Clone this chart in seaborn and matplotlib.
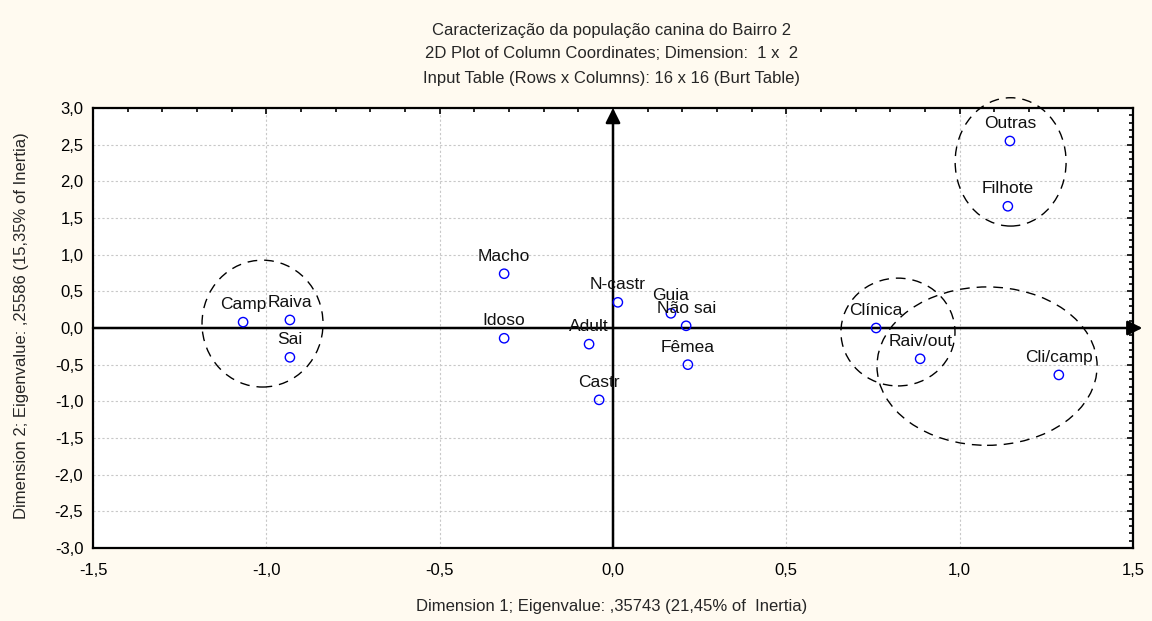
import numpy as np
import pandas as pd
import matplotlib
matplotlib.use("Agg")
import matplotlib.pyplot as plt
from matplotlib.patches import Ellipse
import seaborn as sns

# column coordinates
categories = ["Camp", "Raiva", "Sai", "Macho", "Idoso", "Adult", "N-castr", "Guia",
              "Não sai", "Fêmea", "Castr", "Clínica", "Raiv/out", "Cli/camp",
              "Outras", "Filhote"]
dim1 = [-1.067, -0.932, -0.932, -0.314, -0.314, -0.069, 0.014, 0.167,
        0.211, 0.216, -0.040, 0.759, 0.886, 1.286, 1.145, 1.139]
dim2 = [0.08, 0.11, -0.40, 0.74, -0.14, -0.22, 0.35, 0.20,
        0.03, -0.50, -0.98, 0.00, -0.42, -0.64, 2.55, 1.66]

# dashed groupings: centre x, centre y, width, height
groups_x = [-1.011, 1.147, 0.822, 1.079]
groups_y = [0.06, 2.265, -0.055, -0.52]
groups_w = [0.349, 0.320, 0.329, 0.635]
groups_h = [1.73, 1.75, 1.47, 2.16]

x_ticks = [-1.5, -1.0, -0.5, 0.0, 0.5, 1.0, 1.5]
y_ticks = [-3.0, -2.5, -2.0, -1.5, -1.0, -0.5, 0.0, 0.5, 1.0, 1.5, 2.0, 2.5, 3.0]

df = pd.DataFrame({"label": categories, "dim1": dim1, "dim2": dim2})

sns.set_style("white")
plt.rcParams["font.family"] = ["Liberation Sans", "DejaVu Sans"]

bg = "#FFFAF0"
fig = plt.figure(figsize=(11.52, 6.21), dpi=100, facecolor=bg)
ax = fig.add_axes([93 / 1152, 1 - 548 / 621, 1040 / 1152, 440 / 621])
ax.set_facecolor("white")

ax.set_xlim(-1.5, 1.5)
ax.set_ylim(-3.0, 3.0)
ax.set_xticks(x_ticks)
ax.set_xticklabels([f"{v:.1f}".replace(".", ",") for v in x_ticks])
ax.set_yticks(y_ticks)
ax.set_yticklabels([f"{v:.1f}".replace(".", ",") for v in y_ticks])
ax.set_xticks(np.arange(-1.5, 1.51, 0.1), minor=True)
ax.set_yticks(np.arange(-3.0, 3.01, 0.1), minor=True)
ax.tick_params(which="both", direction="in", top=True, right=True,
               labelsize=12, colors="black", width=1.2)
ax.tick_params(which="major", length=4)
ax.tick_params(axis="x", which="major", pad=11)
ax.tick_params(axis="y", which="major", pad=7)
ax.tick_params(which="minor", length=3)
ax.grid(True, which="major", linestyle=(0, (2, 2)), color="#c8c8c8", lw=0.8)
for s in ax.spines.values():
    s.set_color("black")
    s.set_linewidth(1.6)

# axis arrows through the origin
ax.annotate("", xy=(0, 3.0), xytext=(0, -3.0), annotation_clip=False,
            arrowprops=dict(arrowstyle="-|>", lw=1.8, color="black",
                            mutation_scale=22, shrinkA=0, shrinkB=0))
ax.annotate("", xy=(1.527, 0), xytext=(-1.5, 0), annotation_clip=False,
            arrowprops=dict(arrowstyle="-|>", lw=1.8, color="black",
                            mutation_scale=22, shrinkA=0, shrinkB=0))

for gx, gy, gw, gh in zip(groups_x, groups_y, groups_w, groups_h):
    ax.add_patch(Ellipse((gx, gy), gw, gh, fill=False, edgecolor="black",
                         lw=1.0, linestyle=(0, (7, 5)), clip_on=False))

sns.scatterplot(data=df, x="dim1", y="dim2", ax=ax, marker="o", s=45,
                facecolor="none", edgecolor="blue", linewidth=1.0, zorder=5)
ax.set_xlabel("")
ax.set_ylabel("")

for lab, xv, yv in zip(df["label"], df["dim1"], df["dim2"]):
    ax.annotate(lab, (xv, yv), xytext=(0, 12.5), textcoords="offset points",
                ha="center", va="center", fontsize=12.5, color="#111111", zorder=6)

fig.text(0.531, 1 - 31 / 621, "Caracterização da população canina do Bairro 2",
         ha="center", va="center", fontsize=12)
fig.text(0.531, 1 - 53 / 621, "2D Plot of Column Coordinates; Dimension:  1 x  2",
         ha="center", va="center", fontsize=12)
fig.text(0.531, 1 - 79 / 621, "Input Table (Rows x Columns): 16 x 16 (Burt Table)",
         ha="center", va="center", fontsize=12)
fig.text(0.531, 1 - 606 / 621, "Dimension 1; Eigenvalue: ,35743 (21,45% of  Inertia)",
         ha="center", va="center", fontsize=12)
fig.text(22 / 1152, 1 - 326 / 621, "Dimension 2; Eigenvalue: ,25586 (15,35% of Inertia)",
         ha="center", va="center", rotation=90, fontsize=12)

fig.savefig("out.png", dpi=100, facecolor=bg)
